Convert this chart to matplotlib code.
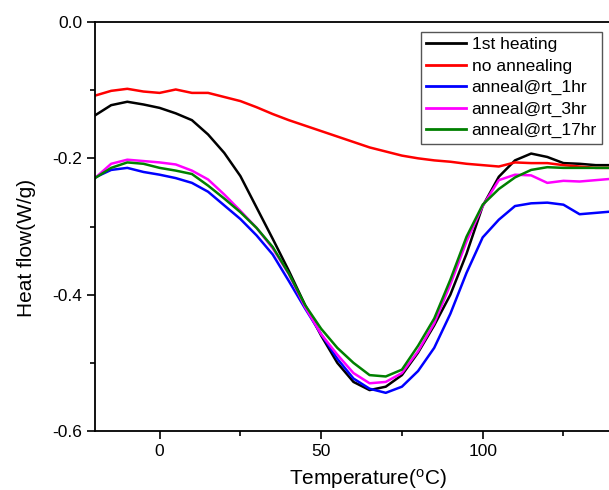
import matplotlib
matplotlib.use("Agg")
import matplotlib.pyplot as plt
from matplotlib.ticker import MultipleLocator

plt.rcParams['font.family'] = ['Liberation Sans', 'DejaVu Sans']
plt.rcParams['mathtext.fontset'] = 'custom'
plt.rcParams['mathtext.rm'] = 'Liberation Sans'

# temperature grid (C) and heat flow (W/g)
temp = [-20, -15, -10, -5, 0, 5, 10, 15, 20, 25, 30, 35, 40, 45, 50, 55, 60,
        65, 70, 75, 80, 85, 90, 95, 100, 105, 110, 115, 120, 125, 130, 135, 140]

first_heating = [-0.137, -0.122, -0.117, -0.121, -0.126, -0.134, -0.144, -0.165,
                 -0.192, -0.226, -0.272, -0.318, -0.365, -0.415, -0.460, -0.500,
                 -0.528, -0.540, -0.535, -0.518, -0.485, -0.445, -0.400, -0.340,
                 -0.270, -0.227, -0.203, -0.193, -0.198, -0.207, -0.208, -0.210, -0.210]

no_annealing = [-0.108, -0.101, -0.098, -0.102, -0.104, -0.099, -0.104, -0.104,
                -0.110, -0.116, -0.125, -0.135, -0.144, -0.152, -0.160, -0.168,
                -0.176, -0.184, -0.190, -0.196, -0.200, -0.203, -0.205, -0.208,
                -0.210, -0.212, -0.206, -0.207, -0.207, -0.210, -0.212, -0.214, -0.214]

anneal_1hr = [-0.228, -0.217, -0.214, -0.220, -0.224, -0.229, -0.236, -0.249,
              -0.269, -0.289, -0.313, -0.341, -0.380, -0.420, -0.458, -0.494,
              -0.523, -0.538, -0.544, -0.535, -0.512, -0.478, -0.428, -0.368,
              -0.316, -0.290, -0.270, -0.266, -0.265, -0.268, -0.282, -0.280, -0.278]

anneal_3hr = [-0.229, -0.208, -0.202, -0.204, -0.206, -0.209, -0.218, -0.231,
              -0.253, -0.277, -0.302, -0.332, -0.370, -0.418, -0.458, -0.488,
              -0.515, -0.530, -0.528, -0.515, -0.483, -0.442, -0.385, -0.322,
              -0.270, -0.232, -0.224, -0.225, -0.236, -0.233, -0.234, -0.232, -0.230]

anneal_17hr = [-0.229, -0.214, -0.206, -0.208, -0.214, -0.218, -0.223, -0.240,
               -0.259, -0.279, -0.302, -0.330, -0.369, -0.415, -0.450, -0.478,
               -0.500, -0.518, -0.520, -0.510, -0.475, -0.435, -0.378, -0.315,
               -0.268, -0.245, -0.228, -0.217, -0.213, -0.214, -0.214, -0.214, -0.214]

series = [("1st heating", first_heating, "black"),
          ("no annealing", no_annealing, "#ff0000"),
          ("anneal@rt_1hr", anneal_1hr, "#0000ff"),
          ("anneal@rt_3hr", anneal_3hr, "#ff00ff"),
          ("anneal@rt_17hr", anneal_17hr, "#008000")]

fig = plt.figure(figsize=(6.09, 4.90), dpi=100)
ax = fig.add_axes([95/609, 1-431/490, 514/609, 409/490])

for name, vals, col in series:
    ax.plot(temp, vals, color=col, lw=1.8, label=name)

ax.set_xlim(-20, 139.1)
ax.set_ylim(-0.6, 0.0)
ax.xaxis.set_major_locator(MultipleLocator(50))
ax.xaxis.set_minor_locator(MultipleLocator(25))
ax.yaxis.set_major_locator(MultipleLocator(0.2))
ax.yaxis.set_minor_locator(MultipleLocator(0.1))
ax.yaxis.set_major_formatter(matplotlib.ticker.FormatStrFormatter('%.1f'))

ax.spines['right'].set_visible(False)
for s in ['left', 'top', 'bottom']:
    ax.spines[s].set_linewidth(1.3)
ax.tick_params(which='major', direction='out', length=6, width=1.2, labelsize=12.5, pad=3)
ax.tick_params(which='minor', direction='out', length=3.5, width=1.2)
ax.tick_params(top=False, right=False)

ax.set_xlabel('Temperature($\\mathregular{^{o}}$C)', fontsize=15)
ax.set_ylabel('Heat flow(W/g)', fontsize=15)
ax.xaxis.set_label_coords(0.531, -0.088)
ax.yaxis.set_label_coords(-0.115, 0.447)

leg = ax.legend(loc='upper right', bbox_to_anchor=(602/609, 1-32/490),
                bbox_transform=fig.transFigure, borderaxespad=0,
                fontsize=12.5, handlelength=2.3, handletextpad=0.3,
                labelspacing=0.36, borderpad=0.3, fancybox=False, framealpha=1)
leg.get_frame().set_edgecolor('#555555')
leg.get_frame().set_linewidth(1.0)
for l in leg.get_lines():
    l.set_linewidth(2)

fig.savefig('out.png', dpi=100)
